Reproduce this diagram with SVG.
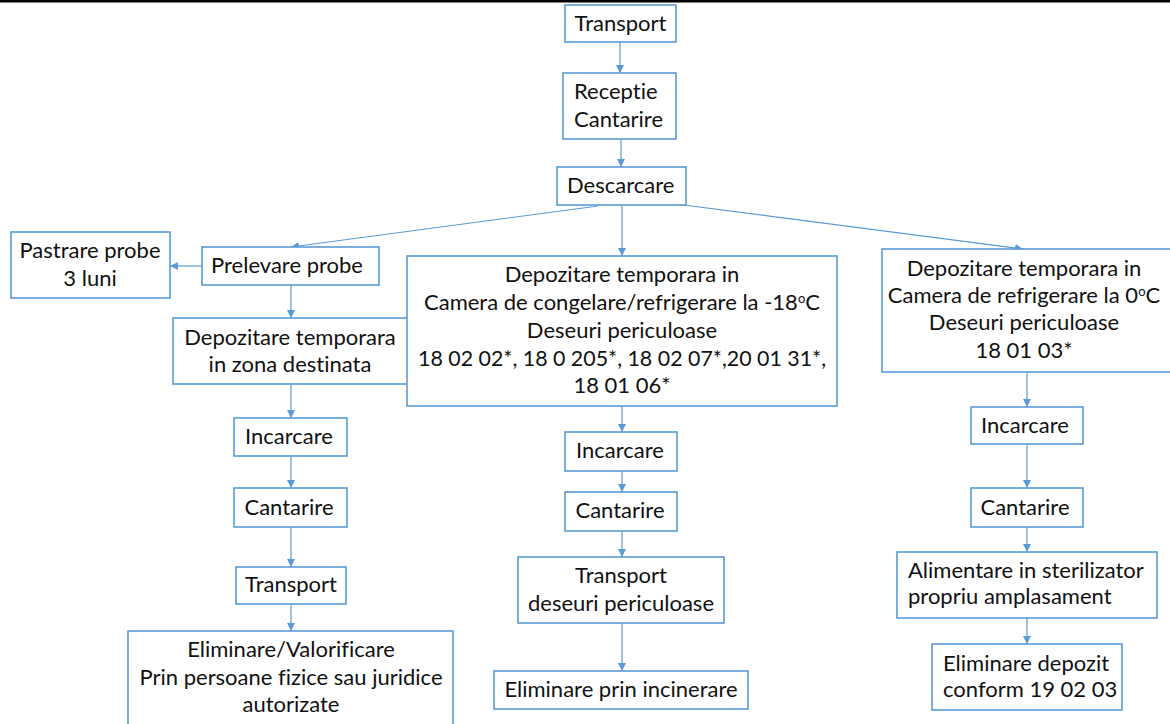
<svg xmlns="http://www.w3.org/2000/svg" width="1170" height="724" viewBox="0 0 1170 724">
<defs>
<marker id="ah" markerUnits="userSpaceOnUse" markerWidth="10" markerHeight="10" refX="8" refY="4" orient="auto">
<path d="M0,0 L8,4 L0,8 z" fill="#5B9BD5"/>
</marker>
<style>
.box{fill:#fff;stroke:#5B9BD5;stroke-width:1.6}
.t{font-family:Lato,"Open Sans",sans-serif;font-size:22px;fill:#111;text-anchor:middle;font-variant-ligatures:none;font-feature-settings:"liga" 0,"clig" 0}
.l{text-anchor:start}
.c{stroke:#5B9BD5;stroke-width:1.2;fill:none;marker-end:url(#ah)}
</style>
</defs>
<rect x="0" y="0" width="1170" height="724" fill="#fff"/>
<rect x="0" y="0" width="1170" height="2.5" fill="#000"/>
<g id="connectors">
<line class="c" x1="620" y1="42" x2="620" y2="73"/>
<line class="c" x1="621" y1="139" x2="621" y2="167"/>
<line class="c" x1="622" y1="205" x2="622" y2="256"/>
<line class="c" x1="598" y1="206" x2="291" y2="247"/>
<line class="c" x1="676" y1="204" x2="1023" y2="249"/>
<line class="c" x1="202" y1="266" x2="170" y2="266"/>
<line class="c" x1="291" y1="285" x2="291" y2="318"/>
<line class="c" x1="291" y1="384" x2="291" y2="418"/>
<line class="c" x1="291" y1="456" x2="291" y2="488"/>
<line class="c" x1="291" y1="527" x2="291" y2="567"/>
<line class="c" x1="291" y1="604" x2="291" y2="631"/>
<line class="c" x1="622" y1="406" x2="622" y2="432"/>
<line class="c" x1="622" y1="471" x2="622" y2="492"/>
<line class="c" x1="622" y1="531" x2="622" y2="557"/>
<line class="c" x1="622" y1="623" x2="622" y2="671"/>
<line class="c" x1="1027" y1="372" x2="1027" y2="407"/>
<line class="c" x1="1027" y1="444" x2="1027" y2="488"/>
<line class="c" x1="1027" y1="527" x2="1027" y2="552"/>
<line class="c" x1="1027" y1="618" x2="1027" y2="644"/>
</g>
<g id="n-transport"><rect class="box" x="565" y="5" width="111" height="37"/><text class="t" x="620.5" y="31">Transport</text></g>
<g id="n-receptie"><rect class="box" x="563" y="73" width="113" height="66"/><text class="t l" x="574" y="99">Receptie</text><text class="t l" x="574" y="127">Cantarire</text></g>
<g id="n-descarcare"><rect class="box" x="557" y="167" width="129" height="38"/><text class="t l" x="567" y="193">Descarcare</text></g>
<g id="n-pastrare"><rect class="box" x="11" y="232" width="159" height="66"/><text class="t" x="90" y="258">Pastrare probe</text><text class="t" x="90" y="286">3 luni</text></g>
<g id="n-prelevare"><rect class="box" x="202" y="247" width="177" height="38"/><text class="t" x="287" y="273">Prelevare probe</text></g>
<g id="n-dep-zona"><rect class="box" x="173" y="318" width="235" height="66"/><text class="t" x="290" y="345">Depozitare temporara</text><text class="t" x="290" y="372">in zona destinata</text></g>
<g id="n-dep-congelare"><rect class="box" x="407" y="256" width="430" height="150"/>
<text class="t" x="622" y="282">Depozitare temporara in</text>
<text class="t" x="622" y="310" font-size="21.5">Camera de congelare/refrigerare la -18<tspan font-size="13" dy="-7">o</tspan><tspan dy="7">C</tspan></text>
<text class="t" x="622" y="338">Deseuri periculoase</text>
<text class="t" x="622" y="366" textLength="408" lengthAdjust="spacingAndGlyphs">18 02 02*, 18 0 205*, 18 02 07*,20 01 31*,</text>
<text class="t" x="622" y="393">18 01 06*</text></g>
<g id="n-dep-refrigerare"><rect class="box" x="882" y="249" width="300" height="123"/>
<text class="t" x="1024" y="276">Depozitare temporara in</text>
<text class="t" x="1024" y="303">Camera de refrigerare la 0<tspan font-size="13" dy="-7">o</tspan><tspan dy="7">C</tspan></text>
<text class="t" x="1024" y="330">Deseuri periculoase</text>
<text class="t" x="1024" y="358">18 01 03*</text></g>
<g id="n-incarcare-l"><rect class="box" x="234" y="418" width="113" height="38"/><text class="t" x="289" y="444">Incarcare</text></g>
<g id="n-cantarire-l"><rect class="box" x="234" y="488" width="113" height="39"/><text class="t" x="289" y="515">Cantarire</text></g>
<g id="n-transport-l"><rect class="box" x="236" y="567" width="110" height="37"/><text class="t" x="291" y="592">Transport</text></g>
<g id="n-eliminare-l"><rect class="box" x="128" y="631" width="325" height="100"/>
<text class="t" x="291" y="657">Eliminare/Valorificare</text>
<text class="t" x="291" y="685">Prin persoane fizice sau juridice</text>
<text class="t" x="291" y="712">autorizate</text></g>
<g id="n-incarcare-m"><rect class="box" x="565" y="432" width="112" height="39"/><text class="t" x="620" y="458">Incarcare</text></g>
<g id="n-cantarire-m"><rect class="box" x="565" y="492" width="112" height="39"/><text class="t" x="620" y="518">Cantarire</text></g>
<g id="n-transport-m"><rect class="box" x="518" y="557" width="206" height="66"/><text class="t" x="621" y="583">Transport</text><text class="t" x="621" y="611">deseuri periculoase</text></g>
<g id="n-eliminare-m"><rect class="box" x="494" y="671" width="254" height="38"/><text class="t" x="621" y="697">Eliminare prin incinerare</text></g>
<g id="n-incarcare-r"><rect class="box" x="971" y="407" width="112" height="37"/><text class="t" x="1025" y="433">Incarcare</text></g>
<g id="n-cantarire-r"><rect class="box" x="971" y="488" width="112" height="39"/><text class="t" x="1025" y="515">Cantarire</text></g>
<g id="n-alimentare"><rect class="box" x="897" y="552" width="260" height="66"/><text class="t l" x="908" y="578">Alimentare in sterilizator</text><text class="t l" x="908" y="604">propriu amplasament</text></g>
<g id="n-eliminare-r"><rect class="box" x="932" y="644" width="190" height="66"/><text class="t l" x="943" y="671">Eliminare depozit</text><text class="t l" x="943" y="697">conform 19 02 03</text></g>
</svg>
